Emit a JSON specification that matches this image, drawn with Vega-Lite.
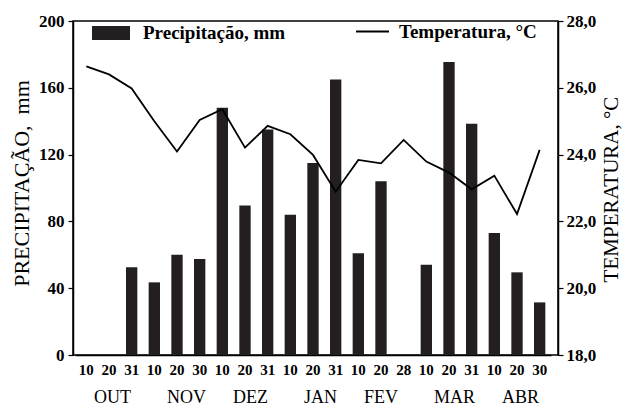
{
  "$schema": "https://vega.github.io/schema/vega-lite/v6.json",
  "width": 485,
  "height": 334,
  "autosize": "none",
  "padding": {"left": 73, "top": 21, "right": 65, "bottom": 55},
  "background": "white",
  "config": {
    "view": {"stroke": "black", "strokeWidth": 1.5},
    "axis": {
      "domainColor": "black",
      "domainWidth": 1.5,
      "tickColor": "black",
      "tickWidth": 1.2,
      "grid": false,
      "labelColor": "black",
      "titleColor": "black",
      "labelFont": "Liberation Serif",
      "titleFont": "Liberation Serif"
    }
  },
  "data": {
    "values": [
      {"k": "10 OUT", "p": 0, "t": 26.64},
      {"k": "20 OUT", "p": 0, "t": 26.40},
      {"k": "31 OUT", "p": 52.5, "t": 25.98},
      {"k": "10 NOV", "p": 43.5, "t": 25.0},
      {"k": "20 NOV", "p": 60, "t": 24.09},
      {"k": "30 NOV", "p": 57.5, "t": 25.04},
      {"k": "10 DEZ", "p": 148, "t": 25.36},
      {"k": "20 DEZ", "p": 89.5, "t": 24.21},
      {"k": "31 DEZ", "p": 135, "t": 24.86},
      {"k": "10 JAN", "p": 84, "t": 24.61},
      {"k": "20 JAN", "p": 115, "t": 23.99},
      {"k": "31 JAN", "p": 165, "t": 22.89},
      {"k": "10 FEV", "p": 61, "t": 23.84},
      {"k": "20 FEV", "p": 104, "t": 23.74},
      {"k": "28 FEV", "p": 0, "t": 24.44},
      {"k": "10 MAR", "p": 54, "t": 23.79},
      {"k": "20 MAR", "p": 175.5, "t": 23.46},
      {"k": "31 MAR", "p": 138.5, "t": 22.96},
      {"k": "10 ABR", "p": 73, "t": 23.37},
      {"k": "20 ABR", "p": 49.5, "t": 22.22},
      {"k": "30 ABR", "p": 31.5, "t": 24.14}
    ]
  },
  "encoding": {
    "x": {
      "field": "k",
      "type": "nominal",
      "sort": null,
      "scale": {"range": [2, 478], "paddingInner": 0, "paddingOuter": 0},
      "axis": {
        "orient": "bottom",
        "ticks": false,
        "labelAngle": 0,
        "labelFontSize": 15,
        "labelFontWeight": "bold",
        "labelPadding": 7,
        "labelExpr": "split(datum.label, ' ')[0]",
        "title": "OUT\u00a0\u00a0\u00a0\u00a0\u00a0\u00a0\u00a0\u00a0NOV\u00a0\u00a0\u00a0\u00a0\u00a0\u00a0DEZ\u00a0\u00a0\u00a0\u00a0\u00a0\u00a0\u00a0\u00a0JAN\u00a0\u00a0\u00a0\u00a0\u00a0\u00a0FEV\u00a0\u00a0\u00a0\u00a0\u00a0\u00a0\u00a0\u00a0MAR\u00a0\u00a0\u00a0\u00a0\u00a0\u00a0ABR",
        "titleFontSize": 18,
        "titleFontWeight": "normal",
        "titleX": 243,
        "titlePadding": 11
      }
    }
  },
  "layer": [
    {
      "mark": {"type": "bar", "width": {"band": 0.5}},
      "encoding": {
        "y": {
          "field": "p",
          "type": "quantitative",
          "scale": {"domain": [0, 200], "nice": false},
          "axis": {
            "orient": "left",
            "values": [0, 40, 80, 120, 160, 200],
            "format": "d",
            "labelFontSize": 17,
            "labelFontWeight": "bold",
            "tickSize": 5,
            "labelPadding": 4,
            "title": "PRECIPITAÇÃO,\u00a0 mm",
            "titleFontSize": 22,
            "titleFontWeight": "normal",
            "titleY": 162,
            "titlePadding": 5
          }
        },
        "color": {
          "datum": "Precipitação, mm",
          "scale": {"range": ["#231f20"]},
          "legend": {
            "orient": "none",
            "legendX": 19,
            "legendY": -7,
            "title": null,
            "symbolType": "M-1,-0.368H1V0.368H-1Z",
            "symbolSize": 1444,
            "symbolStrokeWidth": 0,
            "symbolOpacity": 1,
            "labelFont": "Liberation Serif",
            "labelFontSize": 19,
            "labelFontWeight": "bold",
            "labelColor": "black",
            "labelOffset": 13
          }
        }
      }
    },
    {
      "mark": {"type": "line", "strokeWidth": 1.8},
      "encoding": {
        "y": {
          "field": "t",
          "type": "quantitative",
          "scale": {"domain": [18, 28], "nice": false, "zero": false},
          "axis": {
            "orient": "right",
            "values": [18, 20, 22, 24, 26, 28],
            "labelExpr": "replace(format(datum.value, '.1f'), '.', ',')",
            "labelFontSize": 17,
            "labelFontWeight": "bold",
            "tickSize": 5,
            "labelPadding": 3,
            "title": "TEMPERATURA, °C",
            "titleAngle": 270,
            "titleBaseline": "middle",
            "titleAlign": "center",
            "titleX": 53,
            "titleY": 168,
            "titleFontSize": 21,
            "titleFontWeight": "normal"
          }
        },
        "stroke": {
          "datum": "Temperatura, °C",
          "scale": {"range": ["black"]},
          "legend": {
            "orient": "none",
            "legendX": 282,
            "legendY": -7,
            "title": null,
            "symbolType": "stroke",
            "symbolSize": 1089,
            "symbolStrokeWidth": 2,
            "labelFont": "Liberation Serif",
            "labelFontSize": 19,
            "labelFontWeight": "bold",
            "labelColor": "black",
            "labelOffset": 9
          }
        }
      }
    }
  ],
  "resolve": {"scale": {"y": "independent"}}
}
